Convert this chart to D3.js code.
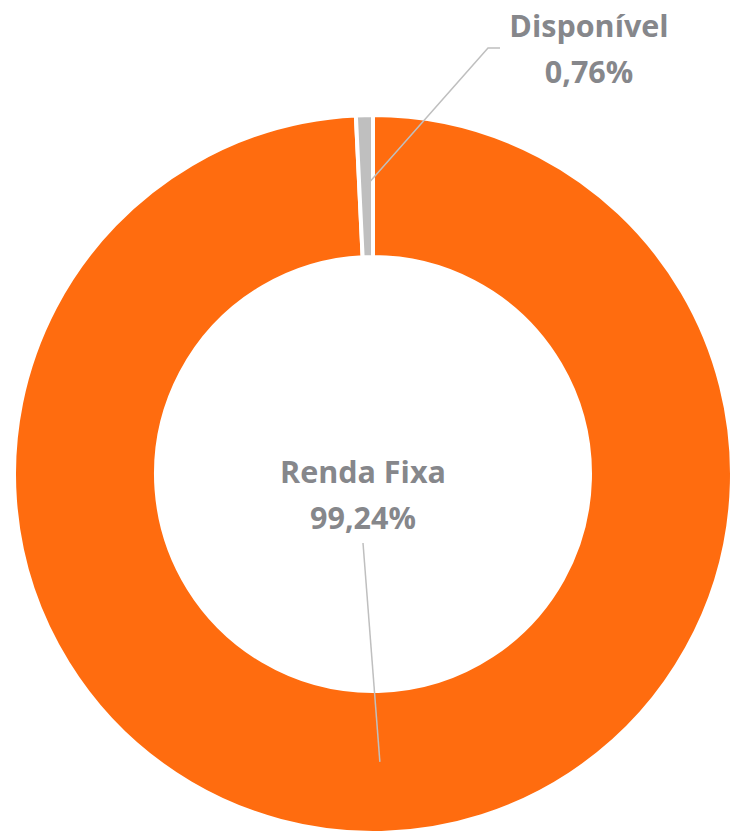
<!DOCTYPE html>
<html>
<head>
<meta charset="utf-8">
<script src="https://cdn.jsdelivr.net/npm/d3@7"></script>
<style>
  html, body { margin: 0; padding: 0; background: #fff; }
  svg { display: block; }
</style>
</head>
<body>
<div id="chart"></div>
<script>
// data
const categories = ["Renda Fixa", "Disponível"];
const values = [99.24, 0.76];
const valueLabels = ["99,24%", "0,76%"];
const colors = ["#FF6C0F", "#BFBFBF"];

const width = 732, height = 836;
const cx = 373, cy = 474;
const outerR = 359, innerR = 217;

// label anchors (text centre / leader line elbow)
const labelPos = [
  {x: 363, y: 483, line: [[363, 543]]},
  {x: 589, y: 37, line: [[488, 48], [500, 48]]}
];

const svg = d3.select("#chart")
  .append("svg")
  .attr("width", width)
  .attr("height", height);

const g = svg.append("g")
  .attr("transform", `translate(${cx},${cy})`);

const pie = d3.pie().sort(null).value(d => d);
const arcs = pie(values);

const arc = d3.arc().innerRadius(innerR).outerRadius(outerR);
const midArc = d3.arc().innerRadius((innerR + outerR) / 2).outerRadius((innerR + outerR) / 2);

g.selectAll("path.slice")
  .data(arcs)
  .join("path")
    .attr("class", "slice")
    .attr("d", arc)
    .attr("fill", (d, i) => colors[i])
    .attr("stroke", "#fff")
    .attr("stroke-width", 4);

// leader lines
const line = d3.line();
svg.append("g")
  .selectAll("path")
  .data(arcs)
  .join("path")
    .attr("d", (d, i) => {
      const c = midArc.centroid(d);
      const start = [cx + c[0], cy + c[1]];
      return line([start, ...labelPos[i].line]);
    })
    .attr("fill", "none")
    .attr("stroke", "#BFBFBF")
    .attr("stroke-width", 1.5);

// labels
const labels = svg.append("g")
  .attr("font-family", "'Open Sans', sans-serif")
  .attr("font-weight", "bold")
  .attr("font-size", 30.5)
  .attr("fill", "#86878B")
  .attr("text-anchor", "middle");

categories.forEach((c, i) => {
  const p = labelPos[i];
  labels.append("text")
    .attr("x", p.x)
    .attr("y", p.y)
    .text(c);
  labels.append("text")
    .attr("x", p.x)
    .attr("y", p.y + 46)
    .text(valueLabels[i]);
});
</script>
</body>
</html>
